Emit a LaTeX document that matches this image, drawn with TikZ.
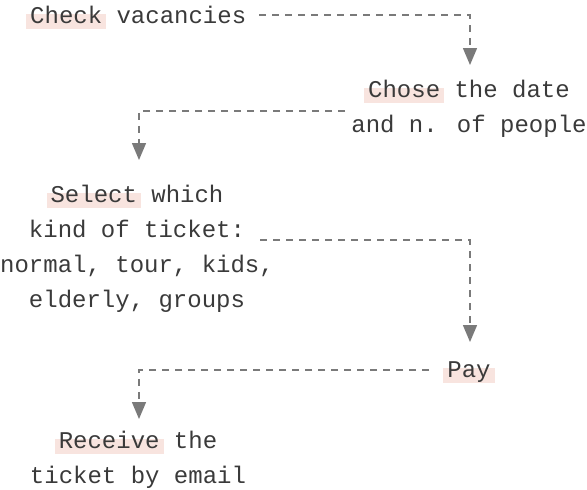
\documentclass[tikz,border=0pt]{standalone}
\usepackage{fontspec}
\setmainfont{Liberation Mono}
\usetikzlibrary{arrows.meta,calc}
\definecolor{txt}{HTML}{3A3A3A}
\definecolor{linec}{HTML}{7A7A7A}
\definecolor{hlpink}{HTML}{F8E4DF}
\newlength\hlw
\newcommand\hlword[1]{\settowidth\hlw{#1}\makebox[0pt][l]{\hspace*{-4pt}{\color{hlpink}\rule[-6pt]{\dimexpr\hlw+8pt\relax}{15pt}}}#1}
\tikzset{
  stepnode/.style={inner sep=0pt, text=txt, align=center,
    font=\fontsize{24pt}{35pt}\selectfont},
  conn/.style={draw=linec, line width=1.5pt, dash pattern=on 7pt off 6pt,
    -{Triangle[length=17pt,width=14pt]}},
}
\begin{document}
\begin{tikzpicture}[x=1pt,y=-1pt]
\useasboundingbox (0,0) rectangle (587,490);
\node[stepnode, anchor=base west] (check) at (30,23) {\hlword{Check} vacancies};
\node[stepnode, anchor=base] (chose) at (469,132) {\hlword{Chose} the date\\and n. of people};
\node[stepnode, anchor=base] (select) at (137,307) {\hlword{Select} which\\kind of ticket:\\normal, tour, kids,\\elderly, groups};
\node[stepnode, anchor=base] (pay) at (469,377) {\hlword{Pay}};
\node[stepnode, anchor=base] (receive) at (138,483) {\hlword{Receive} the\\ticket by email};
\draw[conn] ($(check.base east)+(13,-8)$) -| ($(chose.base)+(1,-67)$);
\draw[conn] ($(chose.base west)+(-6,-21)$) -| ($(select.base)+(2,-147)$);
\draw[conn] ($(select.base east)+(-14,-67)$) -| ($(pay.base)+(1,-35)$);
\draw[conn] ($(pay.base west)+(-18,-7)$) -| ($(receive.base)+(1,-64)$);
\end{tikzpicture}
\end{document}
